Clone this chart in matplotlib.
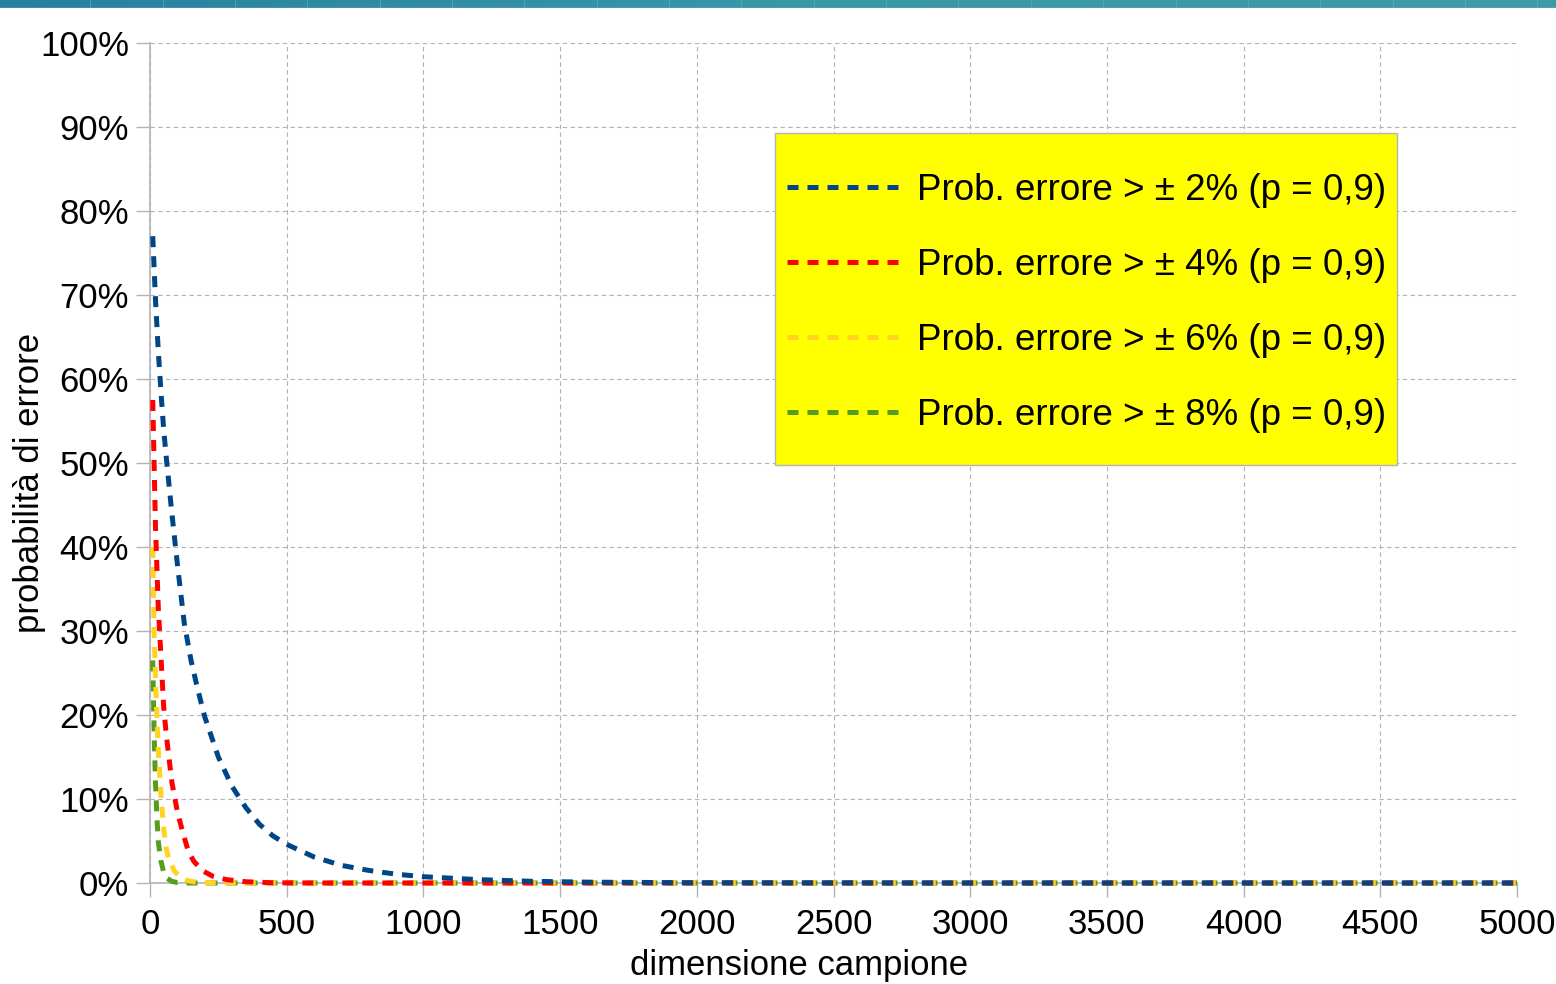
import numpy as np
import matplotlib
matplotlib.use("Agg")
import matplotlib.pyplot as plt
from matplotlib.ticker import FuncFormatter
from matplotlib.patches import Rectangle
from matplotlib.colors import LinearSegmentedColormap

# ---- data ----
n_blue = [10, 20, 30, 40, 50, 60, 80, 100, 125, 150, 175, 200, 250, 300, 350, 400, 450, 500,
          600, 700, 800, 900, 1000, 1200, 1400, 1600, 2000, 3000, 5000]
p_blue = [77, 69.5, 63.5, 58.5, 54, 50.5, 44, 38, 31, 26.5, 23, 19.8, 15, 11.5, 9, 7, 5.6, 4.6,
          3.1, 2.1, 1.5, 1.05, 0.75, 0.4, 0.2, 0.1, 0.03, 0, 0]

n_red = [10, 20, 30, 40, 50, 60, 80, 100, 120, 140, 160, 190, 230, 280, 350, 450, 600, 5000]
p_red = [57.5, 42.5, 33, 27, 21, 17.5, 12, 8.5, 6, 3.8, 2.6, 1.5, 0.8, 0.4, 0.15, 0.03, 0, 0]

n_yellow = [10, 15, 20, 25, 30, 40, 50, 60, 70, 90, 110, 140, 180, 250, 5000]
p_yellow = [40, 30, 24.5, 20, 16, 10.5, 6.5, 4, 2.7, 1.4, 0.7, 0.25, 0.05, 0, 0]

n_green = [10, 15, 20, 25, 30, 40, 50, 60, 80, 100, 140, 5000]
p_green = [26.5, 18, 12, 8, 5, 2.6, 1.3, 0.6, 0.2, 0.05, 0, 0]

labels = ["Prob. errore > \u00b1 2% (p = 0,9)",
          "Prob. errore > \u00b1 4% (p = 0,9)",
          "Prob. errore > \u00b1 6% (p = 0,9)",
          "Prob. errore > \u00b1 8% (p = 0,9)"]
colors = ["#004586", "#ff0000", "#ffd320", "#579d1c"]

x_ticks = [0, 500, 1000, 1500, 2000, 2500, 3000, 3500, 4000, 4500, 5000]
y_ticks = [0, 10, 20, 30, 40, 50, 60, 70, 80, 90, 100]

plt.rcParams['font.family'] = ['Liberation Sans', 'DejaVu Sans']

W, H = 1556, 984
fig = plt.figure(figsize=(W / 100, H / 100), dpi=100)

# top decorative band
band = fig.add_axes([0, 1 - 8 / H, 1, 8 / H])
grad = np.linspace(0, 1, 256)[None, :]
cmap = LinearSegmentedColormap.from_list("band", ["#27809e", "#3a97a8", "#3f9aa8"])
band.imshow(grad, aspect="auto", cmap=cmap, extent=[0, 1, 0, 1])
for xv in np.arange(0.058, 1, 0.0465):
    band.axvline(xv, color="#5fb0bd", lw=0.8, alpha=0.6)
band.axhline(0.05, color="#8fc9d2", lw=1.0)
band.set_xlim(0, 1)
band.set_ylim(0, 1)
band.axis("off")

ax = fig.add_axes([150 / W, 1 - 883 / H, (1517 - 150) / W, (883 - 43) / H])

series = [(n_blue, p_blue), (n_red, p_red), (n_yellow, p_yellow), (n_green, p_green)]
zorders = [6, 5, 4, 3]
lines = []
for (xs, ys), c, lab, z in zip(series, colors, labels, zorders):
    ln, = ax.plot(xs, ys, color=c, lw=3.6, linestyle=(0, (2.2, 1.8)),
                  dash_capstyle="butt", solid_capstyle="butt", label=lab, zorder=z,
                  clip_on=False)
    lines.append(ln)

ax.set_xlim(0, 5000)
ax.set_ylim(0, 100)
ax.set_xticks(x_ticks)
ax.set_yticks(y_ticks)
ax.yaxis.set_major_formatter(FuncFormatter(lambda v, p: f"{int(v)}%"))
ax.tick_params(axis="both", labelsize=25, length=10, width=1, color="#b3b3b3",
               labelcolor="black")
ax.tick_params(axis="y", pad=5)
ax.tick_params(axis="x", pad=8)

ax.grid(True, color="#b3b3b3", lw=0.8, linestyle=(0, (4, 3)))
ax.set_axisbelow(True)
for s in ["top", "right"]:
    ax.spines[s].set_visible(False)
for s in ["left", "bottom"]:
    ax.spines[s].set_color("#b3b3b3")
    ax.spines[s].set_linewidth(1.2)

fig.text(799 / W, 1 - 965 / H, "dimensione campione", fontsize=25,
         ha="center", va="center")
fig.text(30 / W, 1 - 483 / H, "probabilità di errore", fontsize=25,
         ha="center", va="center", rotation=90)

# legend box
box = Rectangle((775 / W, 1 - 465 / H), (1397 - 775) / W, (465 - 133) / H,
                transform=fig.transFigure, facecolor="#ffff00", edgecolor="#b3b3b3",
                lw=1.0, zorder=9)
fig.add_artist(box)

fs = 26.5
fpx = fs * 100 / 72
leg = fig.legend(handles=lines, loc="upper left",
                 bbox_to_anchor=(787 / W, 1 - 173 / H),
                 fontsize=fs, frameon=False, handlelength=120 / fpx,
                 handletextpad=10 / fpx, labelspacing=1.09, borderpad=0,
                 borderaxespad=0)
leg.set_zorder(10)

fig.savefig("out.png", dpi=100)
